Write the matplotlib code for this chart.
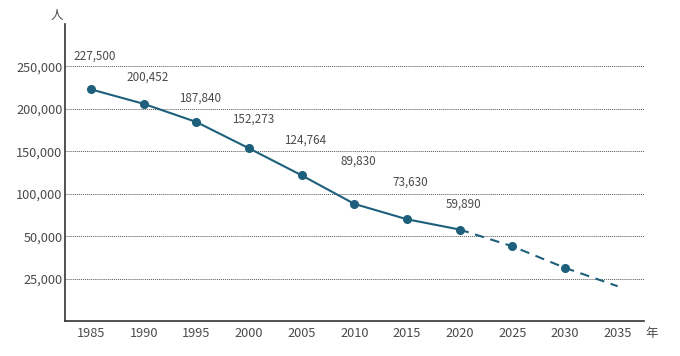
import matplotlib
matplotlib.use("Agg")
import matplotlib.pyplot as plt

plt.rcParams['font.family'] = ['Noto Sans CJK JP', 'DejaVu Sans']

# Data
years_actual = [1985, 1990, 1995, 2000, 2005, 2010, 2015, 2020]
values_actual = [223000, 206000, 184600, 153600, 121800, 88200, 70100, 58000]
value_labels = ["227,500", "200,452", "187,840", "152,273", "124,764", "89,830", "73,630", "59,890"]
years_proj = [2020, 2025, 2030, 2035]
values_proj = [58000, 38300, 12900, -8700]
proj_marker_years = [2025, 2030]
proj_marker_values = [38300, 12900]
ytick_values = [250000, 200000, 150000, 100000, 50000, 0]
ytick_labels = ["250,000", "200,000", "150,000", "100,000", "50,000", "25,000"]
xtick_values = [1985, 1990, 1995, 2000, 2005, 2010, 2015, 2020, 2025, 2030, 2035]

color = "#1e5f7c"
text_color = "#4a4a4a"

fig = plt.figure(figsize=(6.8, 3.56), dpi=100)
ax = fig.add_axes([65.3/680, 1 - 321.3/356, (644 - 65.3)/680, (321.3 - 24)/356])

ax.set_xlim(1982.55, 2037.5)
ax.set_ylim(-50000, 300000)

for v in ytick_values:
    ax.axhline(v, color="#555555", lw=0.7, ls=(0, (1, 1)), zorder=1)

ax.plot(years_actual, values_actual, color=color, lw=1.5, marker='o', ms=5.5, zorder=3)
ax.plot(years_proj, values_proj, color=color, lw=1.5, ls=(0, (4.5, 3.2)), zorder=3)
ax.plot(proj_marker_years, proj_marker_values, color=color, lw=0, marker='o', ms=5.5, zorder=3)

# staggered value labels
for i, (x, lab) in enumerate(zip(years_actual, value_labels)):
    ypix = 56 + i * 21.1
    yax = (321.3 - ypix) / (321.3 - 24)
    ax.text(x + 0.35, yax, lab, transform=ax.get_xaxis_transform(), ha='center', va='center',
            fontsize=8.4, color=text_color)

ax.set_yticks(ytick_values)
ax.set_yticklabels(ytick_labels)
ax.set_xticks(xtick_values)
ax.set_xticklabels([str(x) for x in xtick_values])
ax.tick_params(axis='both', length=0, labelsize=9.2, colors=text_color)
ax.tick_params(axis='y', pad=2)
ax.tick_params(axis='x', pad=4)

for s in ['top', 'right']:
    ax.spines[s].set_visible(False)
for s in ['left', 'bottom']:
    ax.spines[s].set_color("#333333")
    ax.spines[s].set_linewidth(1.2)

fig.text(57/680, 1 - 15/356, "人", ha='center', va='center', fontsize=9, color=text_color)
fig.text(652/680, 1 - 333/356, "年", ha='center', va='center', fontsize=9, color=text_color)

fig.savefig("out.png", dpi=100)
